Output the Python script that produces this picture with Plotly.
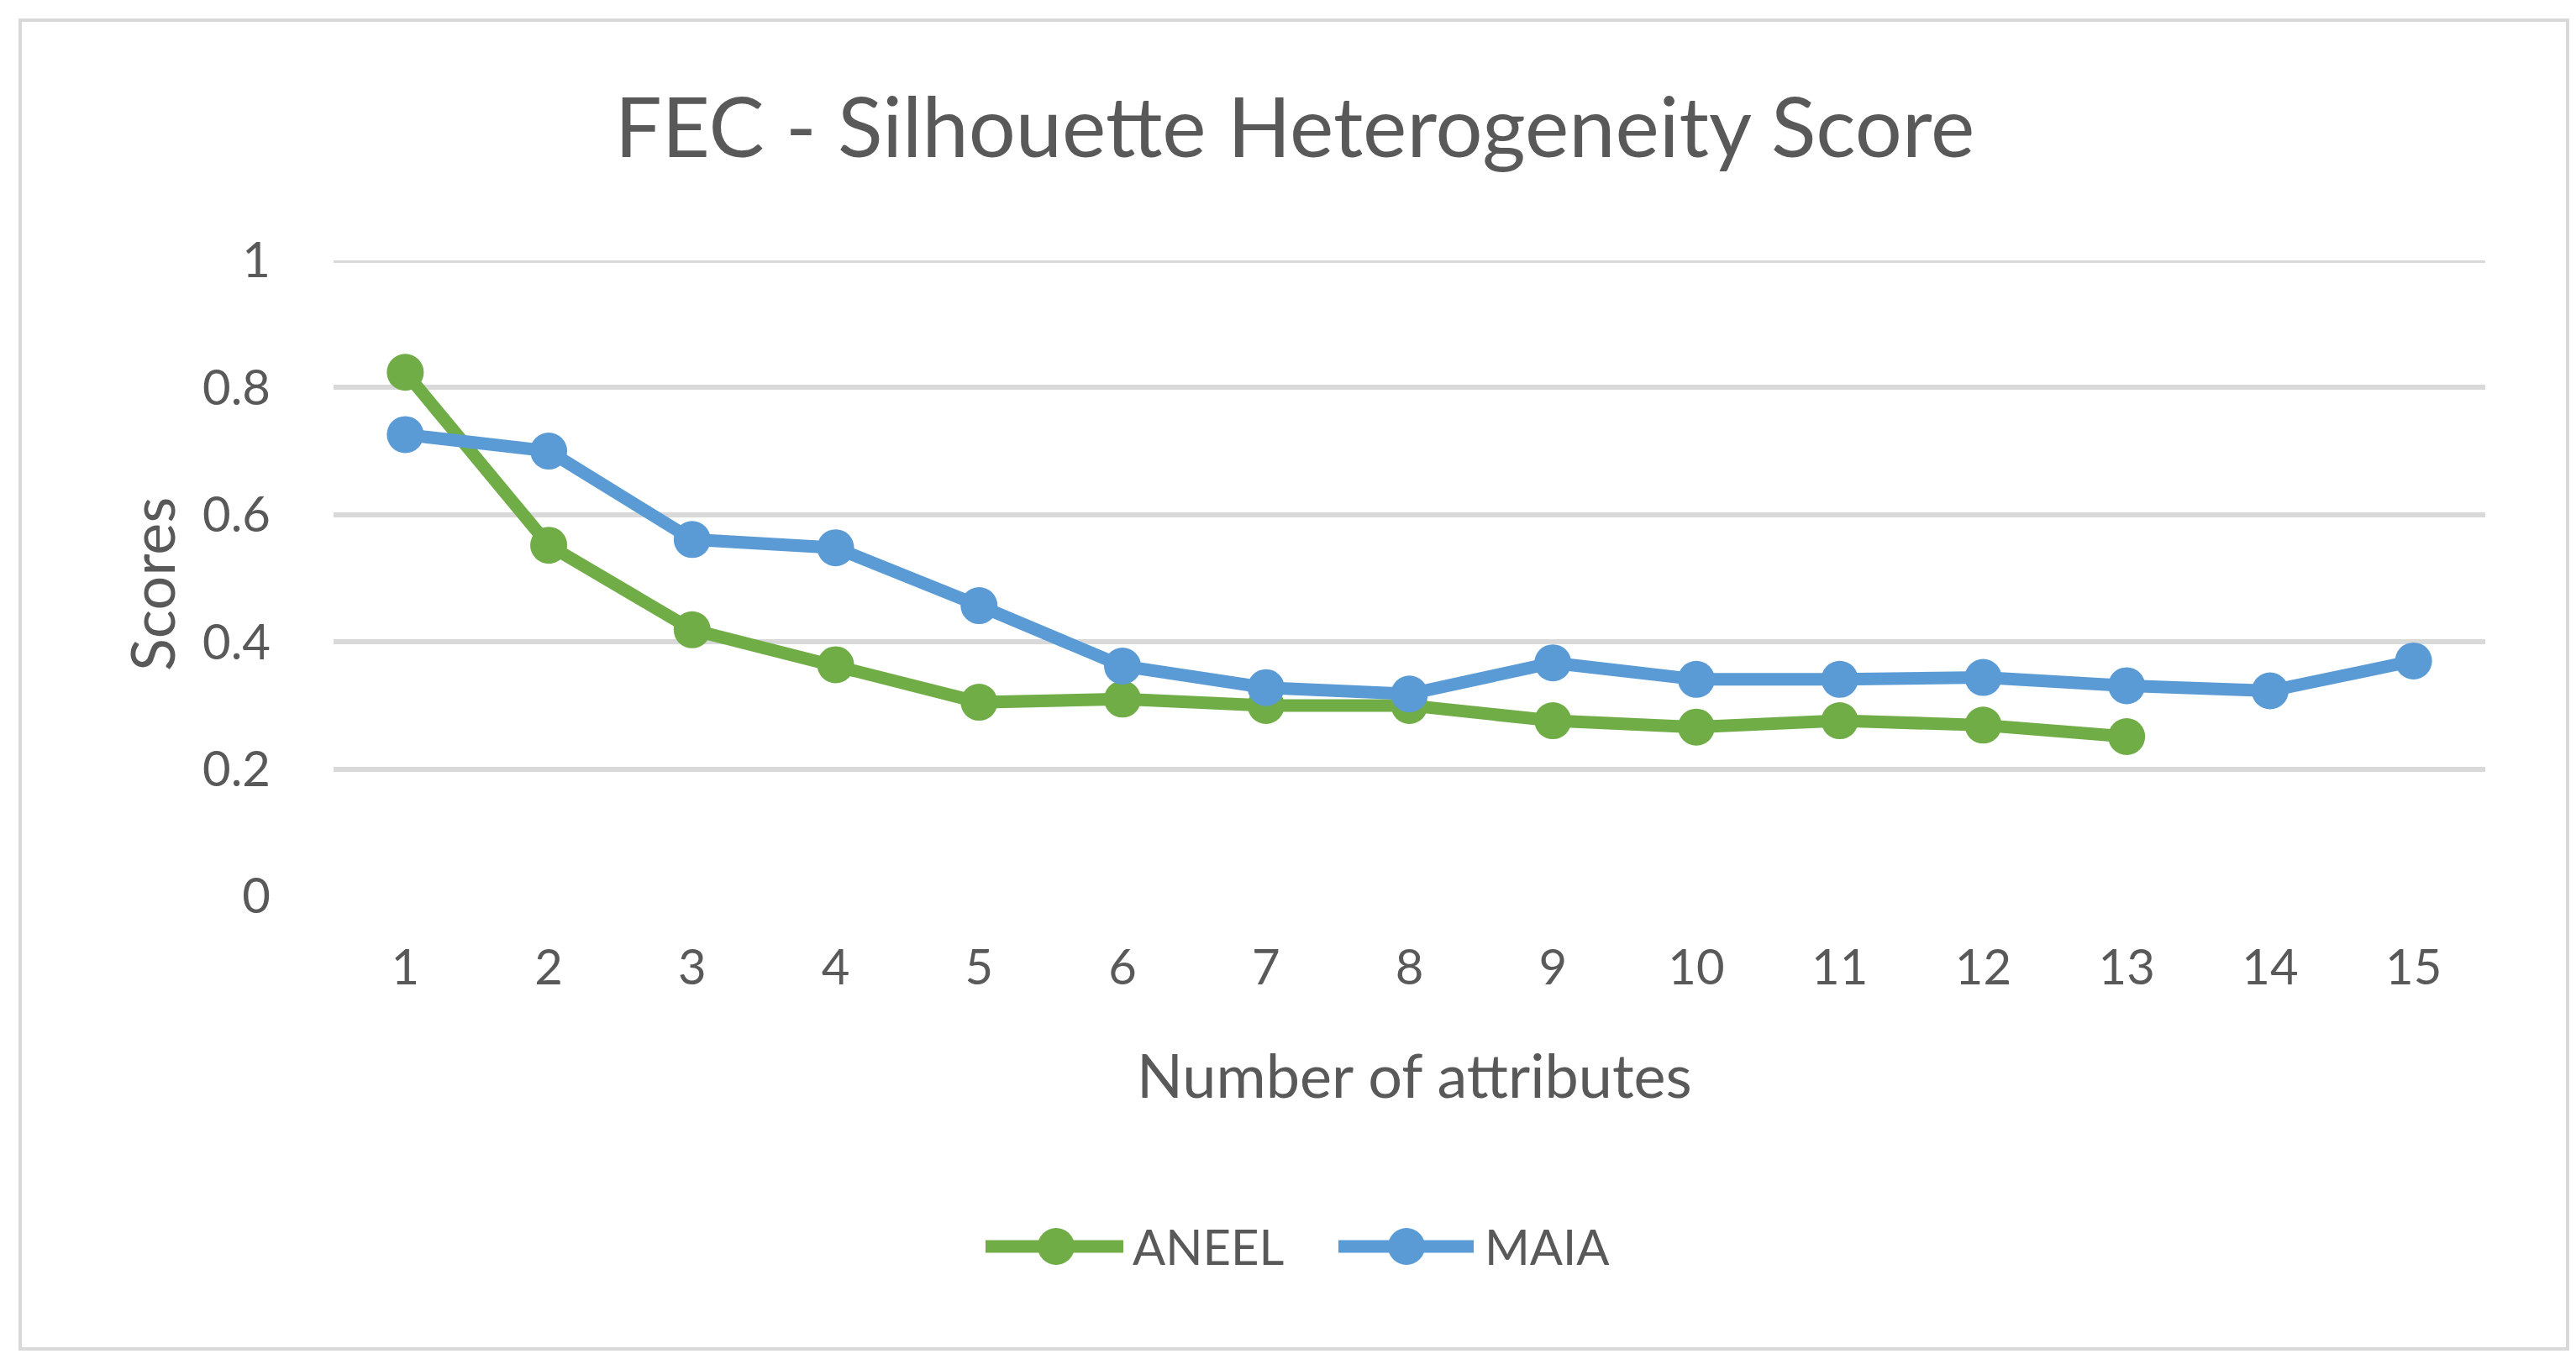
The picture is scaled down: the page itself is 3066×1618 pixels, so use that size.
import plotly.graph_objects as go

categories = [str(i) for i in range(1, 16)]
aneel = [0.824, 0.552, 0.419, 0.364, 0.305, 0.310, 0.300, 0.300, 0.276, 0.266, 0.276, 0.269, 0.251]
maia = [0.726, 0.700, 0.561, 0.548, 0.457, 0.362, 0.328, 0.318, 0.367, 0.341, 0.341, 0.344, 0.331, 0.323, 0.370]
y_ticks = [0, 0.2, 0.4, 0.6, 0.8, 1]
series_names = ["ANEEL", "MAIA"]

W, H = 3066, 1618
L, R, T, B = 389, 116, 302, 559
pw, ph = W - L - R, H - T - B

FONT = "Lato"
TXT = "#595959"
GREEN = "#70AD47"
BLUE = "#5B9BD5"
colors = [GREEN, BLUE]
LW, MS = 15, 44

fig = go.Figure()
for name, vals, col in zip(series_names, [aneel, maia], colors):
    fig.add_trace(go.Scatter(x=categories[:len(vals)], y=vals, name=name, mode="lines+markers",
                             line=dict(color=col, width=LW), marker=dict(color=col, size=MS),
                             showlegend=False))

def px_x(p):
    return (p - L) / pw

def px_y(p):
    return (H - B - p) / ph

shapes = [dict(type="rect", xref="paper", yref="paper", x0=px_x(16), x1=px_x(3048),
               y0=px_y(1598), y1=px_y(16), line=dict(color="#D9D9D9", width=4), layer="below"),
          dict(type="line", xref="paper", yref="y", x0=0, x1=1, y0=1, y1=1,
               line=dict(color="#D9D9D9", width=6), layer="below")]
annotations = [
    dict(text="Number of attributes", xref="paper", yref="paper", x=px_x(1675), y=px_y(1271),
         xanchor="center", yanchor="middle", showarrow=False, font=dict(size=72, color=TXT)),
    dict(text="Scores", xref="paper", yref="paper", x=px_x(172), y=px_y(688), textangle=-90,
         xanchor="center", yanchor="middle", showarrow=False, font=dict(size=72, color=TXT)),
]

# manual legend (larger symbols like the original)
leg_y = px_y(1476)
leg_items = [(1165, 1329, 1249, 1338), (1585, 1746, 1666, 1757)]
for name, col, (lx0, lx1, mx, tx) in zip(series_names, colors, leg_items):
    shapes.append(dict(type="line", xref="paper", yref="paper", x0=px_x(lx0), x1=px_x(lx1),
                       y0=leg_y, y1=leg_y, line=dict(color=col, width=LW)))
    shapes.append(dict(type="circle", xref="paper", yref="paper", xsizemode="pixel", ysizemode="pixel",
                       xanchor=px_x(mx), yanchor=leg_y, x0=-MS / 2, x1=MS / 2, y0=-MS / 2, y1=MS / 2,
                       fillcolor=col, line=dict(color=col, width=0)))
    annotations.append(dict(text=name, xref="paper", yref="paper", x=px_x(tx), y=leg_y,
                            xanchor="left", yanchor="middle", showarrow=False,
                            font=dict(size=58, color=TXT)))

fig.update_layout(
    width=W, height=H,
    margin=dict(l=L, r=R, t=T, b=B),
    paper_bgcolor="white", plot_bgcolor="white",
    font=dict(family=FONT, color=TXT, size=58),
    title=dict(text="FEC - Silhouette Heterogeneity Score", x=0.5, xref="container", xanchor="center",
               y=1 - 144 / H, yanchor="middle", font=dict(size=99, color=TXT, family=FONT)),
    showlegend=False,
    xaxis=dict(type="category", categoryarray=categories, range=[-0.5, 14.5], showgrid=False,
               showline=False, zeroline=False, ticks="", ticklabelstandoff=46,
               tickfont=dict(size=58, color=TXT)),
    yaxis=dict(range=[0, 1], tickvals=y_ticks, showgrid=True, gridcolor="#D9D9D9", gridwidth=6,
               zeroline=False, showline=False, ticks="", ticklabelstandoff=74,
               tickfont=dict(size=58, color=TXT)),
    shapes=shapes,
    annotations=annotations,
)

fig.write_html("out.html")
